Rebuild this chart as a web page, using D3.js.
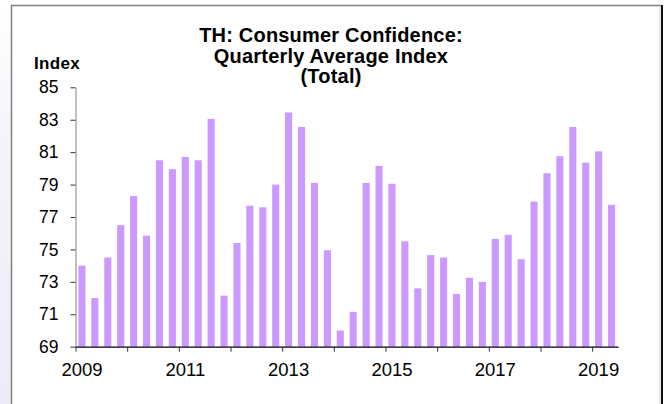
<!DOCTYPE html>
<html>
<head>
<meta charset="utf-8">
<script src="https://cdn.jsdelivr.net/npm/d3@7"></script>
<style>
  body { margin: 0; background: #fff; }
  text { font-family: "Liberation Sans", Arial, sans-serif; }
</style>
</head>
<body>
<div class="chart"></div>
<script>
const quarters = [
  "2009Q1","2009Q2","2009Q3","2009Q4","2010Q1","2010Q2","2010Q3","2010Q4",
  "2011Q1","2011Q2","2011Q3","2011Q4","2012Q1","2012Q2","2012Q3","2012Q4",
  "2013Q1","2013Q2","2013Q3","2013Q4","2014Q1","2014Q2","2014Q3","2014Q4",
  "2015Q1","2015Q2","2015Q3","2015Q4","2016Q1","2016Q2","2016Q3","2016Q4",
  "2017Q1","2017Q2","2017Q3","2017Q4","2018Q1","2018Q2","2018Q3","2018Q4",
  "2019Q1","2019Q2"]
const values = [
  74.0, 72.0, 74.5, 76.5, 78.3, 75.85, 80.5, 79.95,
  80.7, 80.5, 83.05, 72.15, 75.4, 77.7, 77.6, 79.0,
  83.45, 82.55, 79.1, 74.95, 70.0, 71.15, 79.1, 80.15,
  79.05, 75.5, 72.6, 74.65, 74.5, 72.25, 73.25, 73.0,
  75.65, 75.9, 74.4, 77.95, 79.7, 80.75, 82.55, 80.35,
  81.05, 77.75]
const yTicks = [69, 71, 73, 75, 77, 79, 81, 83, 85]
const yearTicks = [2009, 2010, 2011, 2012, 2013, 2014, 2015, 2016, 2017, 2018, 2019]
const yearLabels = ["2009", "2011", "2013", "2015", "2017", "2019"]
const titleLines = ["TH: Consumer Confidence:", "Quarterly Average Index", "(Total)"]

const width = 667
const height = 404
const plotLeft = 75.5, plotRight = 618, plotTop = 87.3, plotBottom = 346.7

const svg = d3.select(".chart").append("svg")
    .attr("width", width)
    .attr("height", height)

// pale side strip + frame
const grad = svg.append("defs").append("linearGradient")
    .attr("id", "side").attr("x1", 0).attr("x2", 0).attr("y1", 0).attr("y2", 1)
grad.append("stop").attr("offset", "0%").attr("stop-color", "#ffffff")
grad.append("stop").attr("offset", "35%").attr("stop-color", "#f4f4fb")
grad.append("stop").attr("offset", "100%").attr("stop-color", "#ececf8")
svg.append("rect").attr("x", 0).attr("y", 0).attr("width", 11).attr("height", height)
    .attr("fill", "url(#side)")

svg.append("path")
    .attr("d", `M11.5,${height} V5.5 H661`)
    .attr("fill", "none").attr("stroke", "#808080").attr("stroke-width", 1.5)
svg.append("line").attr("x1", 660).attr("x2", 660).attr("y1", 6).attr("y2", height)
    .attr("stroke", "#d0d0d0").attr("stroke-width", 1)
svg.append("line").attr("x1", 662).attr("x2", 662).attr("y1", 5).attr("y2", height)
    .attr("stroke", "#111").attr("stroke-width", 2)

const x = d3.scaleBand()
    .domain(quarters)
    .range([plotLeft, plotRight])
    .paddingInner(0.45)
    .paddingOuter(0.225)

const xYear = d3.scaleLinear()
    .domain([2009, 2019.5])
    .range([plotLeft, plotRight])

const y = d3.scaleLinear()
    .domain([69, 85])
    .range([plotBottom, plotTop])

svg.append("g")
    .selectAll("rect")
    .data(values)
    .enter().append("rect")
    .attr("x", (d, i) => x(quarters[i]))
    .attr("y", d => y(d))
    .attr("width", x.bandwidth())
    .attr("height", d => y(69) - y(d))
    .attr("fill", "#cc99ff")

// y axis
const yAxis = svg.append("g")
    .attr("transform", `translate(${plotLeft},0)`)
    .call(d3.axisLeft(y).tickValues(yTicks).tickSize(5).tickSizeOuter(0).tickPadding(12))
yAxis.select(".domain").attr("stroke", "#808080")
yAxis.selectAll("line").attr("stroke", "#333")
yAxis.selectAll("text")
    .attr("font-size", "17.5px")
    .attr("fill", "#000")
    .attr("font-family", "Liberation Sans, Arial, sans-serif")

// x axis: year ticks
const xTickAxis = svg.append("g")
    .attr("transform", `translate(0,${plotBottom})`)
    .call(d3.axisBottom(xYear).tickValues(yearTicks).tickFormat("").tickSize(5).tickSizeOuter(0))
xTickAxis.select(".domain").attr("stroke", "#000").attr("stroke-width", 1.2)
xTickAxis.selectAll("line").attr("stroke", "#333")

// x axis: labels on first quarter of each labelled year
const xLabelAxis = svg.append("g")
    .attr("transform", `translate(0,${plotBottom})`)
    .call(d3.axisBottom(x).tickValues(yearLabels.map(d => d + "Q1"))
        .tickFormat(d => d.slice(0, 4)).tickSize(0))
xLabelAxis.select(".domain").remove()
xLabelAxis.selectAll("text")
    .attr("y", 29)
    .attr("dy", 0)
    .attr("font-size", "18.5px")
    .attr("fill", "#000")
    .attr("font-family", "Liberation Sans, Arial, sans-serif")

// titles
svg.append("text")
    .attr("x", 34)
    .attr("y", 69)
    .attr("font-size", "17px")
    .attr("font-weight", "bold")
    .attr("letter-spacing", "0.3px")
    .text("Index")

svg.selectAll(".title")
    .data(titleLines)
    .enter().append("text")
    .attr("class", "title")
    .attr("x", 331)
    .attr("y", (d, i) => 42 + i * 20.5)
    .attr("text-anchor", "middle")
    .attr("font-size", "20px")
    .attr("font-weight", "bold")
    .attr("letter-spacing", "0.2px")
    .text(d => d)
</script>
</body>
</html>
